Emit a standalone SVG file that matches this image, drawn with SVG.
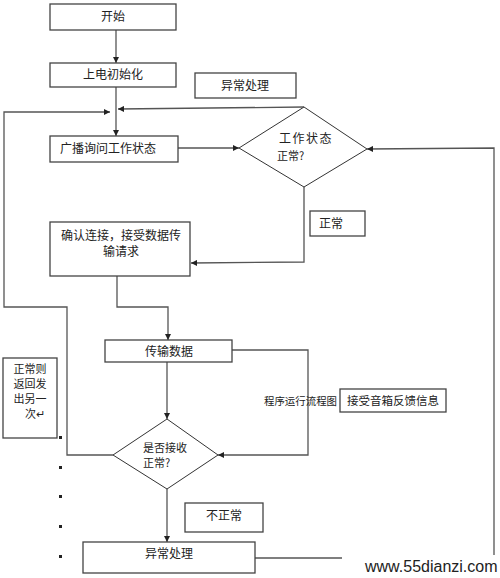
<svg xmlns="http://www.w3.org/2000/svg" width="500" height="578" viewBox="0 0 500 578">
<style>
.box{fill:#fff;stroke:#444;stroke-width:1.3}
.dia{fill:#fff;stroke:#333;stroke-width:1}
.ln{fill:none;stroke:#555;stroke-width:1.3}
text{font-family:"Noto Sans CJK SC","Liberation Sans",sans-serif;font-size:12px;fill:#222}
.c{text-anchor:middle}
.s{font-size:11px}
</style>
<defs>
<marker id="ah" viewBox="0 0 10 10" refX="10" refY="5" markerWidth="6" markerHeight="6" orient="auto" markerUnits="userSpaceOnUse">
<path d="M0,0 L10,5 L0,10 z" fill="#222"/>
</marker>
</defs>
<rect width="500" height="578" fill="#fff"/>
<g id="connectors">
<line class="ln" x1="116" y1="30" x2="116" y2="63" marker-end="url(#ah)"/>
<line class="ln" x1="116" y1="87" x2="116" y2="136" marker-end="url(#ah)"/>
<polyline class="ln" points="304,107 118,109" marker-end="url(#ah)"/>
<polyline class="ln" points="113,455 67,455 67,307 4,307 4,112 110,112" marker-end="url(#ah)"/>
<line class="ln" x1="178" y1="148" x2="239" y2="148" marker-end="url(#ah)"/>
<polyline class="ln" points="304,187 304,262 191,263" marker-end="url(#ah)"/>
<polyline class="ln" points="494,555 494,148 367,149" marker-end="url(#ah)"/>
<polyline class="ln" points="117,276 117,307 168,307 168,340" marker-end="url(#ah)"/>
<line class="ln" x1="167" y1="362" x2="167" y2="419" marker-end="url(#ah)"/>
<polyline class="ln" points="232,350 308,350 308,455 218,455" marker-end="url(#ah)"/>
<line class="ln" x1="167" y1="489" x2="167" y2="542" marker-end="url(#ah)"/>
<line class="ln" x1="255" y1="558" x2="342" y2="558"/>
</g>
<g id="start"><rect class="box" x="50" y="4" width="126" height="26"/><text class="c" x="113" y="21">开始</text></g>
<g id="init"><rect class="box" x="50" y="63" width="126" height="24"/><text class="c" x="113" y="79">上电初始化</text></g>
<g id="abnormal-top"><rect class="box" x="195" y="73" width="101" height="25"/><text class="c" x="245" y="90">异常处理</text></g>
<g id="broadcast"><rect class="box" x="50" y="136" width="128" height="26"/><text class="c" x="108" y="153">广播询问工作状态</text></g>
<g id="decision1"><polygon class="dia" points="304,107 367,149 304,187 239,148"/><text x="279" y="143" letter-spacing="1.5">工作状态</text><text x="277" y="160" class="s" fill="#7a4040">正常?</text></g>
<g id="normal-label"><rect class="box" x="310" y="211" width="55" height="25"/><text x="319" y="228">正常</text></g>
<g id="confirm"><rect class="box" x="50" y="222" width="140" height="54"/><text class="c" x="121" y="240">确认连接，接受数据传</text><text class="c" x="121" y="256">输请求</text></g>
<g id="transfer"><rect class="box" x="105" y="340" width="127" height="22"/><text class="c" x="169" y="356">传输数据</text></g>
<g id="caption"><text x="264" y="405" font-size="10.5" style="font-size:10.5px" textLength="73" lengthAdjust="spacingAndGlyphs">程序运行流程图</text></g>
<g id="feedback"><rect class="box" x="340" y="389" width="106" height="23"/><text class="c" x="393" y="405" style="font-size:11.5px">接受音箱反馈信息</text></g>
<g id="note"><rect class="box" x="3" y="358" width="54" height="80"/><text class="c s" x="30" y="373">正常则</text><text class="c s" x="30" y="388">返回发</text><text class="c s" x="30" y="403">出另一</text><text class="s" x="25" y="418">次↵</text></g>
<g id="decision2"><polygon class="dia" points="167,419 218,455 167,489 113,455"/><text class="s" x="143" y="452">是否接收</text><text class="s" x="143" y="467" fill="#6a4545">正常?</text></g>
<g id="abnormal-label"><rect class="box" x="185" y="503" width="78" height="29"/><text class="c" x="224" y="520">不正常</text></g>
<g id="abnormal-bottom"><rect class="box" x="83" y="542" width="172" height="31"/><text class="c" x="169" y="558">异常处理</text></g>
<g id="bullets" fill="#222">
<rect x="59" y="436" width="3" height="3"/><rect x="59" y="466" width="3" height="3"/><rect x="59" y="495" width="3" height="3"/><rect x="59" y="525" width="3" height="3"/><rect x="59" y="555" width="3" height="3"/>
</g>
<text x="365" y="572" fill="#c0392b" style="font-family:'Liberation Sans',sans-serif;font-size:16px">www.55dianzi.com</text>
</svg>
